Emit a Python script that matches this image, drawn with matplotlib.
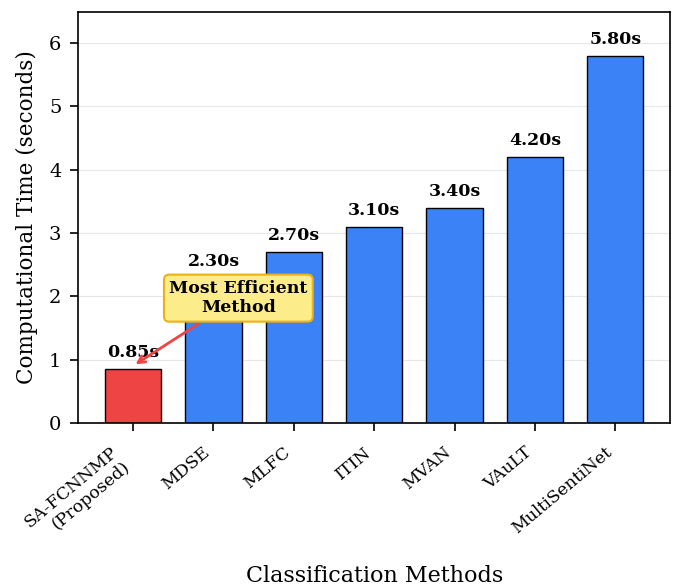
import matplotlib
matplotlib.use("Agg")
import matplotlib.pyplot as plt

methods = ["SA-FCNNMP\n(Proposed)", "MDSE", "MLFC", "ITIN", "MVAN", "VAuLT", "MultiSentiNet"]
times = [0.85, 2.30, 2.70, 3.10, 3.40, 4.20, 5.80]

plt.rcParams['font.family'] = 'DejaVu Serif'

fig, ax = plt.subplots(figsize=(6.73, 5.88), dpi=100)
fig.subplots_adjust(left=0.116, right=0.996, top=0.98, bottom=0.281)

colors = ['#EF4444'] + ['#3B82F6'] * (len(methods) - 1)
x = range(len(methods))
bars = ax.bar(x, times, width=0.7, color=colors, edgecolor='black', linewidth=1)

# value labels above each bar
for bar, t in zip(bars, times):
    ax.text(bar.get_x() + bar.get_width() / 2, t + 0.12, f"{t:.2f}s",
            ha='center', va='bottom', fontsize=12.5, fontweight='bold')

ax.set_ylim(0, max(times) * 1.12)
ax.set_xticks(list(x))
ax.set_xticklabels(methods, rotation=40, ha='right', fontsize=12.5)
ax.tick_params(axis='both', length=6, width=1.2)
ax.tick_params(axis='x', pad=9)
ax.tick_params(axis='y', labelsize=14, pad=6)
ax.set_ylabel('Computational Time (seconds)', fontsize=15.5, labelpad=8)
ax.set_xlabel('Classification Methods', fontsize=16, labelpad=14)
ax.grid(axis='y', alpha=0.3)
ax.set_axisbelow(True)
for s in ax.spines.values():
    s.set_linewidth(1.2)

ax.annotate('Most Efficient\nMethod', xy=(0, times[0] + 0.05), xytext=(1.31, 1.97),
            ha='center', va='center', fontsize=12.5, fontweight='bold',
            bbox=dict(boxstyle='round,pad=0.3', facecolor='#FDED8A', edgecolor='#EEB012', linewidth=1.5),
            arrowprops=dict(arrowstyle='->', color='#EF4444', lw=2))

plt.savefig('out.png', dpi=100)
plt.close()
